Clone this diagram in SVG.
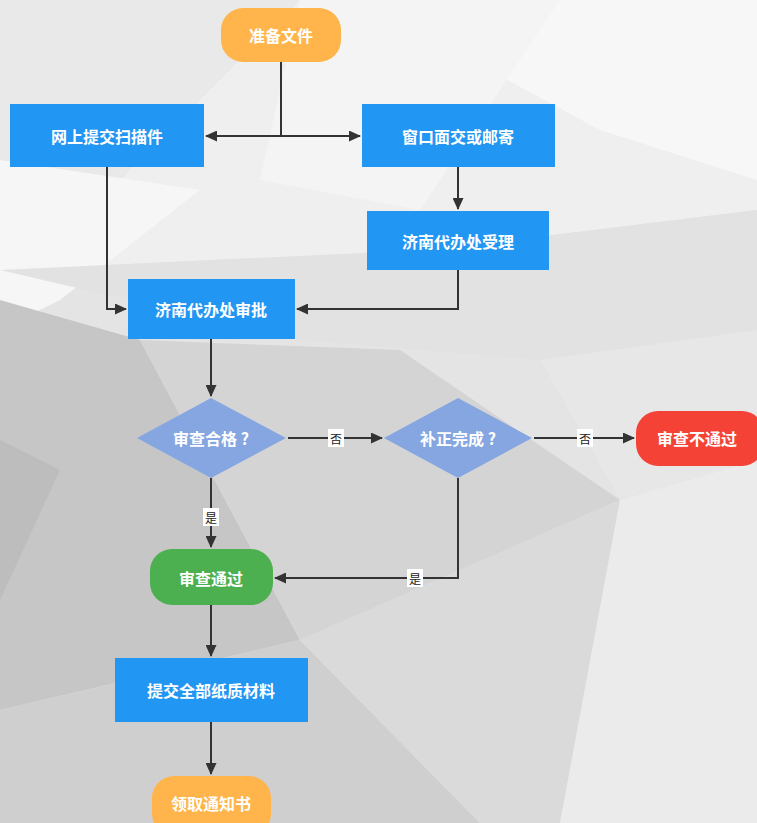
<svg xmlns="http://www.w3.org/2000/svg" width="757" height="823" viewBox="0 0 757 823">
<defs>
<marker id="ah" viewBox="0 0 12 11" refX="11" refY="5.5" markerWidth="12" markerHeight="11" markerUnits="userSpaceOnUse" orient="auto-start-reverse">
<path d="M0,0 L12,5.5 L0,11 z" fill="#333"/>
</marker>
<style>
.bg{stroke:none}
.box{fill:#2196F3}
.t{font-family:"Noto Sans CJK SC","Noto Sans",sans-serif;font-weight:bold;font-size:16px;fill:#fff;text-anchor:middle;dominant-baseline:central}
.c{fill:none;stroke:#333;stroke-width:2}
.lb{fill:#fff}
.lt{font-family:"Noto Sans CJK SC","Noto Sans",sans-serif;font-size:12px;fill:#222;text-anchor:middle;dominant-baseline:central}
</style>
</defs>
<g id="background">
<rect width="757" height="823" fill="#e4e4e4"/>
<polygon class="bg" points="0,0 757,0 757,210 430,250 0,270" fill="#efefef"/>
<polygon class="bg" points="0,0 300,0 120,180 0,240" fill="#e9e9e9"/>
<polygon class="bg" points="360,0 757,0 757,180 600,130" fill="#f7f7f7"/>
<polygon class="bg" points="300,0 560,0 420,210 260,180" fill="#f4f4f4"/>
<polygon class="bg" points="0,160 200,190 60,300 0,330" fill="#f6f6f6"/>
<polygon class="bg" points="0,270 430,250 757,210 757,330 540,360 300,340" fill="#e2e2e2"/>
<polygon class="bg" points="0,300 140,340 300,640 0,710" fill="#c6c6c6"/>
<polygon class="bg" points="140,340 400,350 620,500 300,640" fill="#d4d4d4"/>
<polygon class="bg" points="0,710 300,640 480,823 0,823" fill="#cfcfcf"/>
<polygon class="bg" points="300,640 620,500 560,823 480,823" fill="#dadada"/>
<polygon class="bg" points="620,500 757,460 757,823 560,823" fill="#ebebeb"/>
<polygon class="bg" points="540,360 757,330 757,460 620,500" fill="#e7e7e7"/>
<polygon class="bg" points="0,440 60,470 0,600" fill="#bdbdbd"/>
</g>
<g id="connectors">
<path class="c" d="M281,62 V136"/>
<path class="c" d="M206,136 H360" marker-start="url(#ah)" marker-end="url(#ah)"/>
<path class="c" d="M107,167 V309 H126" marker-end="url(#ah)"/>
<path class="c" d="M458,167 V209" marker-end="url(#ah)"/>
<path class="c" d="M458,270 V309 H297" marker-end="url(#ah)"/>
<path class="c" d="M211,339 V396" marker-end="url(#ah)"/>
<path class="c" d="M288,438 H382" marker-end="url(#ah)"/>
<path class="c" d="M534,438 H634" marker-end="url(#ah)"/>
<path class="c" d="M211,478 V547" marker-end="url(#ah)"/>
<path class="c" d="M458,478 V578 H275" marker-end="url(#ah)"/>
<path class="c" d="M211,605 V656" marker-end="url(#ah)"/>
<path class="c" d="M211,722 V774" marker-end="url(#ah)"/>
<rect class="lb" x="328" y="429" width="16" height="18"/><text class="lt" x="336" y="438">否</text>
<rect class="lb" x="577" y="429" width="16" height="18"/><text class="lt" x="585" y="438">否</text>
<rect class="lb" x="203" y="508" width="16" height="18"/><text class="lt" x="211" y="517">是</text>
<rect class="lb" x="407" y="569" width="16" height="18"/><text class="lt" x="415" y="578">是</text>
</g>
<g id="n1"><rect x="221" y="8" width="120" height="54" rx="22" fill="#FFB54C"/><text class="t" x="281" y="35">准备文件</text></g>
<g id="n2"><rect class="box" x="10" y="104" width="194" height="63"/><text class="t" x="107" y="136">网上提交扫描件</text></g>
<g id="n3"><rect class="box" x="362" y="104" width="193" height="63"/><text class="t" x="458" y="136">窗口面交或邮寄</text></g>
<g id="n4"><rect class="box" x="367" y="211" width="182" height="59"/><text class="t" x="458" y="241">济南代办处受理</text></g>
<g id="n5"><rect class="box" x="128" y="279" width="167" height="60"/><text class="t" x="211" y="309">济南代办处审批</text></g>
<g id="n6"><polygon points="211,398 286,438 211,478 137,438" fill="#86A6E2"/><text class="t" x="211" y="438">审查合格 ?</text></g>
<g id="n7"><polygon points="458,398 532,438 458,478 384,438" fill="#86A6E2"/><text class="t" x="458" y="438">补正完成 ?</text></g>
<g id="n8"><rect x="636" y="411" width="128" height="55" rx="22" fill="#F44336"/><text class="t" x="697" y="438">审查不通过</text></g>
<g id="n9"><rect x="150" y="549" width="123" height="56" rx="22" fill="#4CAF50"/><text class="t" x="211" y="578">审查通过</text></g>
<g id="n10"><rect class="box" x="115" y="658" width="193" height="64"/><text class="t" x="211" y="690">提交全部纸质材料</text></g>
<g id="n11"><rect x="152" y="776" width="119" height="60" rx="22" fill="#FFB54C"/><text class="t" x="211" y="803">领取通知书</text></g>
</svg>
